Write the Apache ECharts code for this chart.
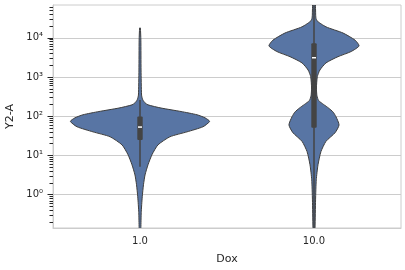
<!DOCTYPE html>
<html>
<head>
<meta charset="utf-8">
<script src="https://cdn.jsdelivr.net/npm/echarts@6/dist/echarts.min.js"></script>
<style>
    html, body { margin: 0; padding: 0; background: #fff; }
    #chart { width: 405px; height: 270px; }
</style>
</head>
<body>
<div id="chart"></div>
<script>
var categories = ['1.0', '10.0'];

// violin outlines: Y2-A value and half width (share of the category band)
var violin1Y = [17800, 8700, 1510, 347, 263, 219, 195, 162, 132, 109, 91, 74, 54, 40, 30, 18.6, 10.5, 5.8, 3.2, 1.8, 0.89, 0.35, 0.145, 0.095];
var violin1W = [0.002, 0.005, 0.006, 0.009, 0.016, 0.029, 0.046, 0.121, 0.236, 0.328, 0.374, 0.400, 0.362, 0.270, 0.172, 0.103, 0.069, 0.046, 0.029, 0.020, 0.013, 0.007, 0.005, 0.003];

var violin2Y = [123000, 51000, 28300, 19000, 13200, 8700, 6200, 4450, 3300, 2290, 1510, 1020, 525, 330, 250, 200, 160, 129, 98, 60, 38, 23, 12.6, 5.8, 2.4, 0.74, 0.145, 0.071];
var violin2W = [0.006, 0.009, 0.014, 0.069, 0.167, 0.236, 0.259, 0.213, 0.138, 0.069, 0.034, 0.019, 0.014, 0.017, 0.027, 0.055, 0.085, 0.109, 0.126, 0.144, 0.121, 0.069, 0.040, 0.023, 0.013, 0.009, 0.006, 0.003];

// whisker low, q1, median, q3, whisker high
var box1 = [5.2, 25, 53, 98, 260];
var box2 = [0.07, 51, 3100, 7240, 120000];

var yTicks = [1, 10, 100, 1000, 10000];
var yMinorTicks = [0.2, 0.3, 0.4, 0.5, 0.6, 0.7, 0.8, 0.9,
    2, 3, 4, 5, 6, 7, 8, 9,
    20, 30, 40, 50, 60, 70, 80, 90,
    200, 300, 400, 500, 600, 700, 800, 900,
    2000, 3000, 4000, 5000, 6000, 7000, 8000, 9000,
    20000, 30000, 40000, 50000, 60000];
var yMin = 0.142;
var yMax = 68400;

var violinY = [violin1Y, violin2Y];
var violinW = [violin1W, violin2W];
var boxes = [box1, box2];

var sup = { '0': '\u2070', '1': '\u00b9', '2': '\u00b2', '3': '\u00b3', '4': '\u2074' };

function renderViolin(params, api) {
    var i = api.value(0);
    var ys = violinY[i], ws = violinW[i], box = boxes[i];
    var cx = api.coord([i, 1])[0];
    var band = api.coord([1, 1])[0] - api.coord([0, 1])[0];
    var right = [], left = [];
    for (var k = 0; k < ys.length; k++) {
        var py = api.coord([i, ys[k]])[1];
        right.push([cx + ws[k] * band, py]);
        left.unshift([cx - ws[k] * band, py]);
    }
    var yLow = api.coord([i, box[0]])[1];
    var yQ1 = api.coord([i, box[1]])[1];
    var yMed = api.coord([i, box[2]])[1];
    var yQ3 = api.coord([i, box[3]])[1];
    var yHigh = api.coord([i, box[4]])[1];
    return {
        type: 'group',
        children: [{
            type: 'polygon',
            shape: { points: right.concat(left), smooth: 0.2 },
            style: { fill: '#5875a4', stroke: '#3d3d3d', lineWidth: 1 }
        }, {
            type: 'line',
            shape: { x1: cx, y1: yLow, x2: cx, y2: yHigh },
            style: { stroke: '#444', lineWidth: 1.5 }
        }, {
            type: 'rect',
            shape: { x: cx - 2.7, y: yQ3, width: 5.4, height: yQ1 - yQ3, r: 1 },
            style: { fill: '#444' }
        }, {
            type: 'rect',
            shape: { x: cx - 2, y: yMed - 0.75, width: 4, height: 1.5 },
            style: { fill: '#fff' }
        }]
    };
}

var chartDom = document.getElementById('chart');
var myChart = echarts.init(chartDom);
var option;

option = {
    animation: false,
    grid: {
        left: 53, right: 4, top: 5, bottom: 42,
        containLabel: false,
        outerBoundsMode: 'none',
        show: true, borderColor: '#cccccc', borderWidth: 1
    },
    xAxis: {
        type: 'category',
        data: categories,
        name: 'Dox',
        nameLocation: 'middle',
        nameGap: 26,
        nameTextStyle: { fontSize: 11, color: '#262626', fontFamily: 'DejaVu Sans' },
        axisLine: { lineStyle: { color: '#cccccc' } },
        axisTick: { alignWithLabel: true, length: 5, lineStyle: { color: '#262626' } },
        axisLabel: { fontSize: 10, color: '#262626', fontFamily: 'DejaVu Sans', margin: 8 },
        splitLine: { show: false }
    },
    yAxis: [{
        type: 'log',
        min: yMin,
        max: yMax,
        name: 'Y2-A',
        nameLocation: 'middle',
        nameGap: 36,
        nameTextStyle: { fontSize: 11, color: '#262626', fontFamily: 'DejaVu Sans' },
        axisLine: { show: true, lineStyle: { color: '#cccccc' } },
        axisTick: { show: true, length: 5.5, customValues: yTicks, lineStyle: { color: '#262626' } },
        axisLabel: {
            fontSize: 10, color: '#262626', fontFamily: 'DejaVu Sans', margin: 10,
            customValues: yTicks,
            formatter: function (v) {
                return '10' + sup[String(Math.round(Math.log10(v)))];
            }
        },
        splitLine: { show: true, lineStyle: { color: '#cccccc', width: 1 } }
    }, {
        type: 'log',
        min: yMin,
        max: yMax,
        position: 'left',
        axisLine: { show: false },
        axisTick: { show: true, length: 3.5, customValues: yMinorTicks, lineStyle: { color: '#262626' } },
        axisLabel: { show: false },
        splitLine: { show: false }
    }],
    series: [{
        type: 'custom',
        clip: true,
        xAxisIndex: 0,
        yAxisIndex: 0,
        renderItem: renderViolin,
        data: [[0], [1]]
    }]
};

myChart.setOption(option);
</script>
</body>
</html>
